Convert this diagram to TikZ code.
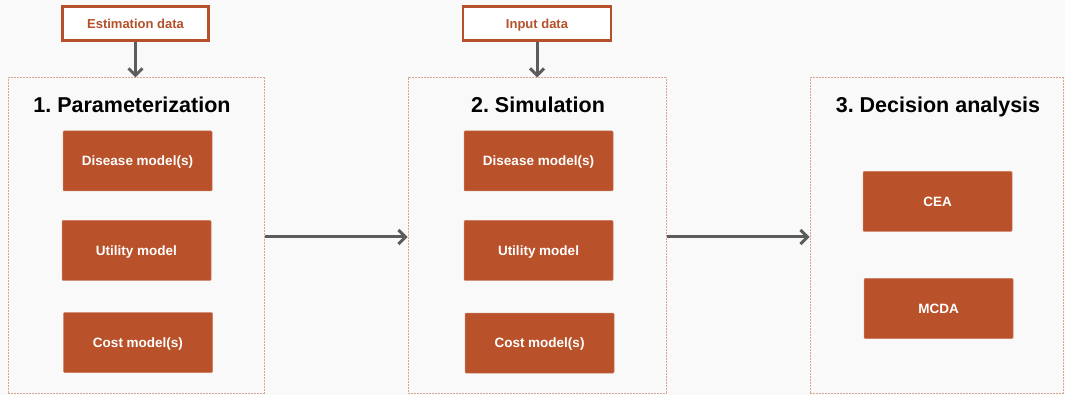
\documentclass[tikz,border=0pt]{standalone}
\usepackage{fontspec}
\setmainfont{Liberation Sans}
\usetikzlibrary{arrows.meta}
\definecolor{rust}{HTML}{B9512A}
\definecolor{rustline}{HTML}{B5502B}
\definecolor{dashc}{HTML}{D9A493}
\definecolor{bgc}{HTML}{F9F9F9}
\definecolor{arrc}{HTML}{5C5C5C}
\frenchspacing
\begin{document}
\begin{tikzpicture}[x=1pt,y=-1pt,
  stagebox/.style={draw=dashc,line width=1pt,dash pattern=on 2pt off 1pt},
  modelbox/.style={fill=rust,draw=rust!75!white,line width=0.5pt,rounded corners=1pt,
    minimum width=149pt,minimum height=60pt,inner sep=0pt,
    text height=9.7pt,text depth=0pt,
    text=white,font=\fontsize{13.5}{15}\selectfont\bfseries},
  databox/.style={fill=white,draw=rustline,line width=2.8pt,
    minimum width=146pt,minimum height=34pt,inner sep=0pt,
    text height=9.3pt,text depth=0pt,
    text=rustline,font=\fontsize{13}{15}\selectfont\bfseries},
  stagetitle/.style={font=\fontsize{21.5}{25}\selectfont\bfseries,text=black,inner sep=0pt,
    text height=15.4pt,text depth=0pt},
  flow/.style={draw=arrc,line width=3pt,-{Straight Barb[length=7pt,width=14pt,line width=3pt]}}
]
\fill[bgc] (0,0) rectangle (1065,395);
\useasboundingbox (0,0) rectangle (1065,395);

% stage boxes
\node[stagebox,minimum width=256pt,minimum height=315pt,inner sep=0pt] (s1) at (136,235.5) {};
\node[stagebox,minimum width=258pt,minimum height=315pt,inner sep=0pt] (s2) at (537,235.5) {};
\node[stagebox,minimum width=253pt,minimum height=315pt,inner sep=0pt] (s3) at (936.5,235.5) {};

% titles
\node[stagetitle] (t1) at (132,105) {1. Parameterization};
\node[stagetitle] (t2) at (538,105) {2. Simulation};
\node[stagetitle] (t3) at (938,105) {3. Decision analysis};

% data boxes
\node[databox] (ed) at (135.5,23.5) {Estimation data};
\node[databox,minimum width=148pt] (id) at (537,23.5) {Input data};

% model boxes stage 1
\node[modelbox] (d1) at (137.5,161) {Disease model(s)};
\node[modelbox] (u1) at (136.5,250.5) {Utility model};
\node[modelbox] (c1) at (138,342.5) {Cost model(s)};

% model boxes stage 2
\node[modelbox] (d2) at (538.5,161) {Disease model(s)};
\node[modelbox] (u2) at (538.5,250.5) {Utility model};
\node[modelbox] (c2) at (539.5,343) {Cost model(s)};

% stage 3
\node[modelbox] (cea) at (937.5,201.5) {CEA};
\node[modelbox] (mcda) at (938.5,308.5) {MCDA};

% arrows
\draw[flow] (ed.south) -- (ed.south |- s1.north);
\draw[flow] (id.south) -- (id.south |- s2.north);
\draw[flow] (s1.east |- 0,237) -- (s2.west |- 0,237);
\draw[flow] (s2.east |- 0,237) -- (s3.west |- 0,237);
\end{tikzpicture}
\end{document}
